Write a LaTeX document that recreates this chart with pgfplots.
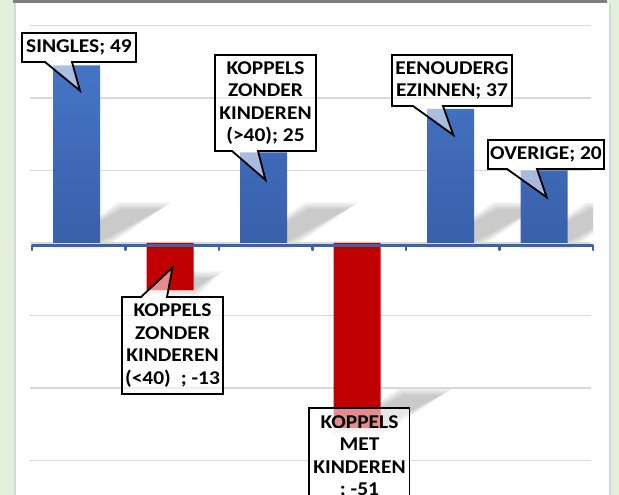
\documentclass[border=0pt]{standalone}
\usepackage{fontspec}
\setmainfont{Carlito}[FakeStretch=1.1]
\usepackage{pgfplots}
\pgfplotsset{compat=1.18}
\definecolor{bggreen}{HTML}{E2EFDA}
\definecolor{topgray}{HTML}{7F7F7F}
\definecolor{edgegray}{HTML}{D6D6D6}
\definecolor{barblue}{HTML}{4674C6}
\definecolor{barbluedark}{HTML}{3960AA}
\definecolor{barred}{HTML}{C00000}
\definecolor{axisblue}{HTML}{3C62AC}
\definecolor{gridgray}{HTML}{D9D9D9}
\newcommand{\lbl}{\fontsize{19.5}{22.5}\selectfont\bfseries}
% callout with pointer on the bottom edge (pixel coordinates, y downwards)
\newcommand{\callDown}[8]{%
  \filldraw[fill=white, fill opacity=0.55, draw=black, line width=1.8pt, line join=miter]
    (#1,#2) -- (#3,#2) -- (#3,#4) -- (#6,#4) -- (#7,#8) -- (#5,#4) -- (#1,#4) -- cycle;}
% callout with pointer on the top edge
\newcommand{\callUp}[8]{%
  \filldraw[fill=white, fill opacity=0.55, draw=black, line width=1.8pt, line join=miter]
    (#1,#2) -- (#5,#2) -- (#7,#8) -- (#6,#2) -- (#3,#2) -- (#3,#4) -- (#1,#4) -- cycle;}
% soft shadow: stacked, shrinking parallelograms
\newcommand{\shadowpar}[8]{%
  \foreach \k in {-5,-3,...,7}{%
    \fill[black, opacity=0.032] (#1+\k,#2-0.6*\k) -- (#3-0.4*\k,#4-0.6*\k) -- (#5-\k,#6+0.6*\k) -- (#7+0.4*\k,#8+0.6*\k) -- cycle;}}

\pgfplotstableread{
x y
0 49
2 25
4 37
5 20
}\positive
\pgfplotstableread{
x y
1 -13
3 -51
}\negative

\begin{document}
\begin{tikzpicture}[x=1pt,y=1pt]
\useasboundingbox (0,0) rectangle (619,495);
\clip (0,0) rectangle (619,495);
\fill[bggreen] (0,0) rectangle (619,495);
\fill[edgegray] (14,0) rectangle (611,491.5);
\fill[white] (16,0) rectangle (609,491.5);
\fill[topgray] (13,491.5) rectangle (607,495);

% soft shadows (pixel coordinates), clipped to the plot area
\begin{scope}[shift={(0,495)}, y=-1pt]
  \clip (32,0) rectangle (593,495);
  \shadowpar{55}{246}{102}{246}{167}{205}{120}{205}
  \shadowpar{242}{246}{289}{246}{354}{205}{307}{205}
  \shadowpar{430}{246}{477}{246}{542}{205}{495}{205}
  \shadowpar{523}{246}{570}{246}{635}{205}{588}{205}
  \shadowpar{336}{431}{383}{431}{448}{391}{401}{391}
  \shadowpar{149}{293}{196}{293}{218}{274}{171}{274}
\end{scope}

\begin{axis}[
  at={(32,-4.55)}, anchor=south west,
  scale only axis, width=561pt, height=493pt,
  xmin=-0.5, xmax=5.5, ymin=-70, ymax=66,
  axis line style={draw=none},
  xtick=\empty,
  ytick={-60,-40,...,60}, yticklabels={},
  ymajorgrids,
  major grid style={gridgray, line width=1.4pt},
  major tick length=0pt,
  bar width=47pt,
]
\addplot[ybar, bar shift=0pt, draw=none, top color=barblue, bottom color=barbluedark] table[x=x,y=y] {\positive};
\addplot[ybar, bar shift=0pt, draw=none, fill=barred] table[x=x,y=y] {\negative};
\end{axis}

\begin{scope}[shift={(0,495)}, y=-1pt]
  % category axis
  \draw[axisblue, line width=3pt] (32,245.3) -- (593,245.3);
  \foreach \t in {32,125.5,219,312.5,406,499.5,593}
    \draw[axisblue, line width=2.2pt, line cap=round] (\t,245.3) -- (\t,250);

  % callouts
  \callDown{22}{33}{136}{62}{45}{72}{80}{90.7}
  \node[font=\lbl, align=center] at (79,47.5) {SINGLES; 49};

  \callDown{215}{55}{316}{151}{232}{258}{265.5}{180}
  \node[font=\lbl, align=center] at (265.5,103) {KOPPELS\\ZONDER\\KINDEREN\\(>40); 25};

  \callDown{392}{55}{512}{106}{413}{443}{453.3}{135}
  \node[font=\lbl, align=center] at (452,80.5) {EENOUDERG\\EZINNEN; 37};

  \callDown{488}{140}{604}{169}{507}{537}{546.7}{197.3}
  \node[font=\lbl, align=center] at (546,154.5) {OVERIGE; 20};

  \callUp{122}{297}{223}{394}{141}{167}{172.5}{267.5}
  \node[font=\lbl, align=center] at (172.5,345.5) {KOPPELS\\ZONDER\\KINDEREN\\(<40)\hspace{10pt}; -13};

  \filldraw[fill=white, fill opacity=0.55, draw=black, line width=1.8pt] (309,408.3) rectangle (409.5,512);
  \node[font=\lbl, align=center] at (359.5,457) {KOPPELS\\MET\\KINDEREN\\; -51};
\end{scope}
\end{tikzpicture}
\end{document}
